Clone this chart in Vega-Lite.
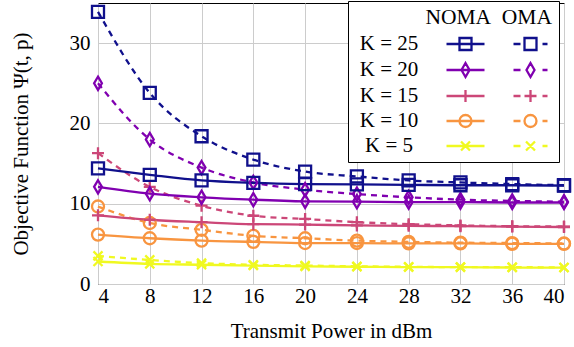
{
  "$schema": "https://vega.github.io/schema/vega-lite/v6.json",
  "width": 466,
  "height": 281,
  "autosize": {"type": "none"},
  "padding": {"left": 98, "top": 3, "right": 10, "bottom": 63},
  "background": "white",
  "data": {"values": [
    {"p": 4, "k": "K = 25", "scheme": "NOMA", "v": 14.4},
    {"p": 8, "k": "K = 25", "scheme": "NOMA", "v": 13.6},
    {"p": 12, "k": "K = 25", "scheme": "NOMA", "v": 12.9},
    {"p": 16, "k": "K = 25", "scheme": "NOMA", "v": 12.6},
    {"p": 20, "k": "K = 25", "scheme": "NOMA", "v": 12.45},
    {"p": 24, "k": "K = 25", "scheme": "NOMA", "v": 12.4},
    {"p": 28, "k": "K = 25", "scheme": "NOMA", "v": 12.35},
    {"p": 32, "k": "K = 25", "scheme": "NOMA", "v": 12.3},
    {"p": 36, "k": "K = 25", "scheme": "NOMA", "v": 12.3},
    {"p": 40, "k": "K = 25", "scheme": "NOMA", "v": 12.25},
    {"p": 4, "k": "K = 25", "scheme": "OMA", "v": 33.9},
    {"p": 8, "k": "K = 25", "scheme": "OMA", "v": 23.8},
    {"p": 12, "k": "K = 25", "scheme": "OMA", "v": 18.4},
    {"p": 16, "k": "K = 25", "scheme": "OMA", "v": 15.5},
    {"p": 20, "k": "K = 25", "scheme": "OMA", "v": 14.0},
    {"p": 24, "k": "K = 25", "scheme": "OMA", "v": 13.4},
    {"p": 28, "k": "K = 25", "scheme": "OMA", "v": 12.9},
    {"p": 32, "k": "K = 25", "scheme": "OMA", "v": 12.65},
    {"p": 36, "k": "K = 25", "scheme": "OMA", "v": 12.45},
    {"p": 40, "k": "K = 25", "scheme": "OMA", "v": 12.3},
    {"p": 4, "k": "K = 20", "scheme": "NOMA", "v": 12.1},
    {"p": 8, "k": "K = 20", "scheme": "NOMA", "v": 11.25},
    {"p": 12, "k": "K = 20", "scheme": "NOMA", "v": 10.8},
    {"p": 16, "k": "K = 20", "scheme": "NOMA", "v": 10.5},
    {"p": 20, "k": "K = 20", "scheme": "NOMA", "v": 10.3},
    {"p": 24, "k": "K = 20", "scheme": "NOMA", "v": 10.25},
    {"p": 28, "k": "K = 20", "scheme": "NOMA", "v": 10.2},
    {"p": 32, "k": "K = 20", "scheme": "NOMA", "v": 10.2},
    {"p": 36, "k": "K = 20", "scheme": "NOMA", "v": 10.15},
    {"p": 40, "k": "K = 20", "scheme": "NOMA", "v": 10.15},
    {"p": 4, "k": "K = 20", "scheme": "OMA", "v": 25.0},
    {"p": 8, "k": "K = 20", "scheme": "OMA", "v": 18.0},
    {"p": 12, "k": "K = 20", "scheme": "OMA", "v": 14.5},
    {"p": 16, "k": "K = 20", "scheme": "OMA", "v": 12.65},
    {"p": 20, "k": "K = 20", "scheme": "OMA", "v": 11.75},
    {"p": 24, "k": "K = 20", "scheme": "OMA", "v": 11.2},
    {"p": 28, "k": "K = 20", "scheme": "OMA", "v": 10.8},
    {"p": 32, "k": "K = 20", "scheme": "OMA", "v": 10.5},
    {"p": 36, "k": "K = 20", "scheme": "OMA", "v": 10.35},
    {"p": 40, "k": "K = 20", "scheme": "OMA", "v": 10.25},
    {"p": 4, "k": "K = 15", "scheme": "NOMA", "v": 8.55},
    {"p": 8, "k": "K = 15", "scheme": "NOMA", "v": 8.0},
    {"p": 12, "k": "K = 15", "scheme": "NOMA", "v": 7.7},
    {"p": 16, "k": "K = 15", "scheme": "NOMA", "v": 7.45},
    {"p": 20, "k": "K = 15", "scheme": "NOMA", "v": 7.4},
    {"p": 24, "k": "K = 15", "scheme": "NOMA", "v": 7.3},
    {"p": 28, "k": "K = 15", "scheme": "NOMA", "v": 7.25},
    {"p": 32, "k": "K = 15", "scheme": "NOMA", "v": 7.2},
    {"p": 36, "k": "K = 15", "scheme": "NOMA", "v": 7.15},
    {"p": 40, "k": "K = 15", "scheme": "NOMA", "v": 7.1},
    {"p": 4, "k": "K = 15", "scheme": "OMA", "v": 16.3},
    {"p": 8, "k": "K = 15", "scheme": "OMA", "v": 12.1},
    {"p": 12, "k": "K = 15", "scheme": "OMA", "v": 9.75},
    {"p": 16, "k": "K = 15", "scheme": "OMA", "v": 8.5},
    {"p": 20, "k": "K = 15", "scheme": "OMA", "v": 8.1},
    {"p": 24, "k": "K = 15", "scheme": "OMA", "v": 7.7},
    {"p": 28, "k": "K = 15", "scheme": "OMA", "v": 7.45},
    {"p": 32, "k": "K = 15", "scheme": "OMA", "v": 7.3},
    {"p": 36, "k": "K = 15", "scheme": "OMA", "v": 7.2},
    {"p": 40, "k": "K = 15", "scheme": "OMA", "v": 7.15},
    {"p": 4, "k": "K = 10", "scheme": "NOMA", "v": 6.15},
    {"p": 8, "k": "K = 10", "scheme": "NOMA", "v": 5.7},
    {"p": 12, "k": "K = 10", "scheme": "NOMA", "v": 5.4},
    {"p": 16, "k": "K = 10", "scheme": "NOMA", "v": 5.25},
    {"p": 20, "k": "K = 10", "scheme": "NOMA", "v": 5.1},
    {"p": 24, "k": "K = 10", "scheme": "NOMA", "v": 5.1},
    {"p": 28, "k": "K = 10", "scheme": "NOMA", "v": 5.05},
    {"p": 32, "k": "K = 10", "scheme": "NOMA", "v": 5.05},
    {"p": 36, "k": "K = 10", "scheme": "NOMA", "v": 5.0},
    {"p": 40, "k": "K = 10", "scheme": "NOMA", "v": 5.0},
    {"p": 4, "k": "K = 10", "scheme": "OMA", "v": 9.65},
    {"p": 8, "k": "K = 10", "scheme": "OMA", "v": 7.6},
    {"p": 12, "k": "K = 10", "scheme": "OMA", "v": 6.75},
    {"p": 16, "k": "K = 10", "scheme": "OMA", "v": 6.0},
    {"p": 20, "k": "K = 10", "scheme": "OMA", "v": 5.7},
    {"p": 24, "k": "K = 10", "scheme": "OMA", "v": 5.4},
    {"p": 28, "k": "K = 10", "scheme": "OMA", "v": 5.25},
    {"p": 32, "k": "K = 10", "scheme": "OMA", "v": 5.15},
    {"p": 36, "k": "K = 10", "scheme": "OMA", "v": 5.1},
    {"p": 40, "k": "K = 10", "scheme": "OMA", "v": 5.05},
    {"p": 4, "k": "K = 5", "scheme": "NOMA", "v": 2.8},
    {"p": 8, "k": "K = 5", "scheme": "NOMA", "v": 2.5},
    {"p": 12, "k": "K = 5", "scheme": "NOMA", "v": 2.4},
    {"p": 16, "k": "K = 5", "scheme": "NOMA", "v": 2.3},
    {"p": 20, "k": "K = 5", "scheme": "NOMA", "v": 2.2},
    {"p": 24, "k": "K = 5", "scheme": "NOMA", "v": 2.15},
    {"p": 28, "k": "K = 5", "scheme": "NOMA", "v": 2.1},
    {"p": 32, "k": "K = 5", "scheme": "NOMA", "v": 2.1},
    {"p": 36, "k": "K = 5", "scheme": "NOMA", "v": 2.05},
    {"p": 40, "k": "K = 5", "scheme": "NOMA", "v": 2.05},
    {"p": 4, "k": "K = 5", "scheme": "OMA", "v": 3.5},
    {"p": 8, "k": "K = 5", "scheme": "OMA", "v": 3.0},
    {"p": 12, "k": "K = 5", "scheme": "OMA", "v": 2.6},
    {"p": 16, "k": "K = 5", "scheme": "OMA", "v": 2.4},
    {"p": 20, "k": "K = 5", "scheme": "OMA", "v": 2.3},
    {"p": 24, "k": "K = 5", "scheme": "OMA", "v": 2.2},
    {"p": 28, "k": "K = 5", "scheme": "OMA", "v": 2.15},
    {"p": 32, "k": "K = 5", "scheme": "OMA", "v": 2.1},
    {"p": 36, "k": "K = 5", "scheme": "OMA", "v": 2.1},
    {"p": 40, "k": "K = 5", "scheme": "OMA", "v": 2.05}
  ]},
  "encoding": {
    "x": {"field": "p", "type": "quantitative",
      "scale": {"domain": [4, 40], "nice": false, "zero": false},
      "axis": {"values": [4, 8, 12, 16, 20, 24, 28, 32, 36, 40], "title": "Transmit Power in dBm", "labelPadding": 1, "titlePadding": 14}},
    "y": {"field": "v", "type": "quantitative",
      "scale": {"domain": [0, 35], "nice": false},
      "axis": {"values": [0, 10, 20, 30], "title": "Objective Function Ψ(t, p)", "labelPadding": 8, "titlePadding": 38}},
    "color": {"field": "k", "type": "nominal", "legend": null,
      "scale": {"domain": ["K = 25", "K = 20", "K = 15", "K = 10", "K = 5"],
                "range": ["#10108c", "#8000b0", "#cc4778", "#f89540", "#f0f921"]}}
  },
  "layer": [
    {"transform": [{"filter": "datum.scheme === 'OMA'"}],
     "mark": {"type": "line", "strokeWidth": 2.3, "strokeDash": [6, 5], "interpolate": "monotone"}},
    {"transform": [{"filter": "datum.scheme === 'NOMA'"}],
     "mark": {"type": "line", "strokeWidth": 2.3, "interpolate": "monotone"}},
    {"transform": [{"filter": "datum.scheme === 'OMA'"}],
     "mark": {"type": "point", "filled": false, "size": 144, "strokeWidth": 2.3, "opacity": 1},
     "encoding": {"shape": {"field": "k", "type": "nominal", "legend": null,
       "scale": {"domain": ["K = 25", "K = 20", "K = 15", "K = 10", "K = 5"],
                 "range": ["square", "M0,-1.1L0.65,0L0,1.1L-0.65,0Z", "M-1,0H1M0,-1V1", "circle", "M-0.75,-0.75L0.75,0.75M-0.75,0.75L0.75,-0.75"]}}}},
    {"transform": [{"filter": "datum.scheme === 'NOMA'"}],
     "mark": {"type": "point", "filled": false, "size": 144, "strokeWidth": 2.3, "opacity": 1},
     "encoding": {"shape": {"field": "k", "type": "nominal", "legend": null,
       "scale": {"domain": ["K = 25", "K = 20", "K = 15", "K = 10", "K = 5"],
                 "range": ["square", "M0,-1.1L0.65,0L0,1.1L-0.65,0Z", "M-1,0H1M0,-1V1", "circle", "M-0.75,-0.75L0.75,0.75M-0.75,0.75L0.75,-0.75"]}}}},
    {"transform": [{"filter": "datum.scheme === 'NOMA' && datum.p === 40"}],
     "mark": {"type": "point", "filled": false, "size": 400, "strokeWidth": 2.3, "opacity": 0},
     "encoding": {
       "color": {"field": "k", "type": "nominal",
         "legend": {
           "orient": "none", "direction": "vertical", "legendX": 250, "legendY": -2,
           "title": "NOMA\u00a0 OMA", "titleAnchor": "end", "titleAlign": "right",
           "titleFont": "Liberation Serif", "titleFontSize": 21.5, "titleFontWeight": "normal", "titleColor": "black", "titlePadding": 4,
           "labelFont": "Liberation Serif", "labelFontSize": 21, "labelColor": "black", "labelAlign": "center", "labelOffset": 12, "labelLimit": 0,
           "symbolSize": 400, "symbolStrokeWidth": 2.3, "symbolOffset": 0, "symbolOpacity": 1, "symbolFillColor": "transparent",
           "rowPadding": 2, "padding": 6, "strokeColor": "black", "fillColor": "white", "cornerRadius": 0}},
       "shape": {"field": "k", "type": "nominal",
         "scale": {"domain": ["K = 25", "K = 20", "K = 15", "K = 10", "K = 5"],
           "range": [
             "M8.1,0H11.9M9.4,-0.6H10.6V0.6H9.4ZM14.8,0H15.5M17.7,0H18.2M15.9,-0.6H17.1V0.6H15.9Z",
             "M8.1,0H11.9M10,-0.7L10.4,0L10,0.7L9.6,0ZM14.8,0H15.5M17.7,0H18.2M16.5,-0.7L16.9,0L16.5,0.7L16.1,0Z",
             "M8.1,0H11.9M10,-0.6V0.6M14.8,0H15.5M17.7,0H18.2M15.9,0H17.1M16.5,-0.6V0.6",
             "M8.1,0H11.9M10.6,0A0.6,0.6 0 1,1 9.4,0A0.6,0.6 0 1,1 10.6,0ZM14.8,0H15.5M17.7,0H18.2M17.1,0A0.6,0.6 0 1,1 15.9,0A0.6,0.6 0 1,1 17.1,0Z",
             "M8.1,0H11.9M9.55,-0.45L10.45,0.45M9.55,0.45L10.45,-0.45M14.8,0H15.5M17.7,0H18.2M16.05,-0.45L16.95,0.45M16.05,0.45L16.95,-0.45"]},
         "legend": {
           "orient": "none", "direction": "vertical", "legendX": 250, "legendY": -2,
           "title": "NOMA\u00a0 OMA", "titleAnchor": "end", "titleAlign": "right",
           "titleFont": "Liberation Serif", "titleFontSize": 21.5, "titleFontWeight": "normal", "titleColor": "black", "titlePadding": 4,
           "labelFont": "Liberation Serif", "labelFontSize": 21, "labelColor": "black", "labelAlign": "center", "labelOffset": 12, "labelLimit": 0,
           "symbolSize": 400, "symbolStrokeWidth": 2.3, "symbolOffset": 0, "symbolOpacity": 1, "symbolFillColor": "transparent",
           "rowPadding": 2, "padding": 6, "strokeColor": "black", "fillColor": "white", "cornerRadius": 0}}
     }}
  ],
  "resolve": {"scale": {"shape": "independent"}, "legend": {"color": "independent", "shape": "independent"}},
  "config": {
    "view": {"stroke": "black", "strokeWidth": 1},
    "axis": {"labelFont": "Liberation Serif", "labelFontSize": 21, "labelColor": "black",
             "titleFont": "Liberation Serif", "titleFontSize": 21, "titleFontWeight": "normal", "titleColor": "black",
             "gridColor": "#cccccc", "gridWidth": 1, "domain": false, "ticks": false, "tickSize": 0}
  }
}
